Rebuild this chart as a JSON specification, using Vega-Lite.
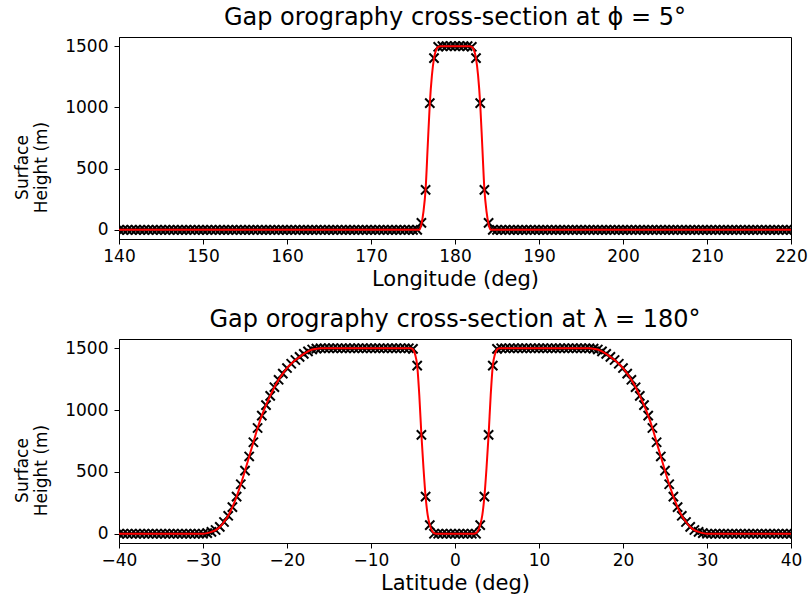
{
  "$schema": "https://vega.github.io/schema/vega-lite/v6.json",
  "padding": {"left": 13, "top": 5, "right": 2, "bottom": 2},
  "config": {
    "font": "DejaVu Sans",
    "view": {"stroke": "black", "strokeWidth": 1},
    "axis": {
      "domainColor": "black", "tickColor": "black", "labelColor": "black", "titleColor": "black",
      "tickSize": 5, "labelFontSize": 17, "titleFontSize": 21, "titleFontWeight": "normal",
      "grid": false, "labelFlush": false, "labelOverlap": false
    },
    "axisX": {"labelPadding": 4, "titlePadding": 4},
    "axisY": {"labelPadding": 6, "titlePadding": 14, "format": "d"},
    "title": {"fontSize": 24, "fontWeight": "normal", "color": "black", "frame": "group", "offset": 7},
    "concat": {"spacing": 17}
  },
  "datasets": {
    "topPts": [
      {"lon":140,"h":0},{"lon":140.5,"h":0},{"lon":141,"h":0},{"lon":141.5,"h":0},{"lon":142,"h":0},{"lon":142.5,"h":0},{"lon":143,"h":0},{"lon":143.5,"h":0},
      {"lon":144,"h":0},{"lon":144.5,"h":0},{"lon":145,"h":0},{"lon":145.5,"h":0},{"lon":146,"h":0},{"lon":146.5,"h":0},{"lon":147,"h":0},{"lon":147.5,"h":0},
      {"lon":148,"h":0},{"lon":148.5,"h":0},{"lon":149,"h":0},{"lon":149.5,"h":0},{"lon":150,"h":0},{"lon":150.5,"h":0},{"lon":151,"h":0},{"lon":151.5,"h":0},
      {"lon":152,"h":0},{"lon":152.5,"h":0},{"lon":153,"h":0},{"lon":153.5,"h":0},{"lon":154,"h":0},{"lon":154.5,"h":0},{"lon":155,"h":0},{"lon":155.5,"h":0},
      {"lon":156,"h":0},{"lon":156.5,"h":0},{"lon":157,"h":0},{"lon":157.5,"h":0},{"lon":158,"h":0},{"lon":158.5,"h":0},{"lon":159,"h":0},{"lon":159.5,"h":0},
      {"lon":160,"h":0},{"lon":160.5,"h":0},{"lon":161,"h":0},{"lon":161.5,"h":0},{"lon":162,"h":0},{"lon":162.5,"h":0},{"lon":163,"h":0},{"lon":163.5,"h":0},
      {"lon":164,"h":0},{"lon":164.5,"h":0},{"lon":165,"h":0},{"lon":165.5,"h":0},{"lon":166,"h":0},{"lon":166.5,"h":0},{"lon":167,"h":0},{"lon":167.5,"h":0},
      {"lon":168,"h":0},{"lon":168.5,"h":0},{"lon":169,"h":0},{"lon":169.5,"h":0},{"lon":170,"h":0},{"lon":170.5,"h":0},{"lon":171,"h":0},{"lon":171.5,"h":0},
      {"lon":172,"h":0},{"lon":172.5,"h":0},{"lon":173,"h":0},{"lon":173.5,"h":0},{"lon":174,"h":0},{"lon":174.5,"h":0},{"lon":175,"h":0},{"lon":175.5,"h":0},
      {"lon":176,"h":57},{"lon":176.5,"h":326},{"lon":177,"h":1035},{"lon":177.5,"h":1402},{"lon":178,"h":1495},
      {"lon":178.5,"h":1500},{"lon":179,"h":1500},{"lon":179.5,"h":1500},{"lon":180,"h":1500},{"lon":180.5,"h":1500},{"lon":181,"h":1500},{"lon":181.5,"h":1500},
      {"lon":182,"h":1495},{"lon":182.5,"h":1402},{"lon":183,"h":1035},{"lon":183.5,"h":326},{"lon":184,"h":57},
      {"lon":184.5,"h":0},{"lon":185,"h":0},{"lon":185.5,"h":0},{"lon":186,"h":0},{"lon":186.5,"h":0},{"lon":187,"h":0},{"lon":187.5,"h":0},{"lon":188,"h":0},
      {"lon":188.5,"h":0},{"lon":189,"h":0},{"lon":189.5,"h":0},{"lon":190,"h":0},{"lon":190.5,"h":0},{"lon":191,"h":0},{"lon":191.5,"h":0},{"lon":192,"h":0},
      {"lon":192.5,"h":0},{"lon":193,"h":0},{"lon":193.5,"h":0},{"lon":194,"h":0},{"lon":194.5,"h":0},{"lon":195,"h":0},{"lon":195.5,"h":0},{"lon":196,"h":0},
      {"lon":196.5,"h":0},{"lon":197,"h":0},{"lon":197.5,"h":0},{"lon":198,"h":0},{"lon":198.5,"h":0},{"lon":199,"h":0},{"lon":199.5,"h":0},{"lon":200,"h":0},
      {"lon":200.5,"h":0},{"lon":201,"h":0},{"lon":201.5,"h":0},{"lon":202,"h":0},{"lon":202.5,"h":0},{"lon":203,"h":0},{"lon":203.5,"h":0},{"lon":204,"h":0},
      {"lon":204.5,"h":0},{"lon":205,"h":0},{"lon":205.5,"h":0},{"lon":206,"h":0},{"lon":206.5,"h":0},{"lon":207,"h":0},{"lon":207.5,"h":0},{"lon":208,"h":0},
      {"lon":208.5,"h":0},{"lon":209,"h":0},{"lon":209.5,"h":0},{"lon":210,"h":0},{"lon":210.5,"h":0},{"lon":211,"h":0},{"lon":211.5,"h":0},{"lon":212,"h":0},
      {"lon":212.5,"h":0},{"lon":213,"h":0},{"lon":213.5,"h":0},{"lon":214,"h":0},{"lon":214.5,"h":0},{"lon":215,"h":0},{"lon":215.5,"h":0},{"lon":216,"h":0},
      {"lon":216.5,"h":0},{"lon":217,"h":0},{"lon":217.5,"h":0},{"lon":218,"h":0},{"lon":218.5,"h":0},{"lon":219,"h":0},{"lon":219.5,"h":0},{"lon":220,"h":0}
    ],
    "topLine": [
      {"lon":140,"h":0},{"lon":175.75,"h":0},{"lon":176,"h":45},{"lon":176.25,"h":150},{"lon":176.5,"h":330},{"lon":176.75,"h":680},
      {"lon":177,"h":1030},{"lon":177.25,"h":1260},{"lon":177.5,"h":1400},{"lon":177.75,"h":1470},{"lon":178,"h":1495},{"lon":178.25,"h":1500},
      {"lon":181.75,"h":1500},{"lon":182,"h":1495},{"lon":182.25,"h":1470},{"lon":182.5,"h":1400},{"lon":182.75,"h":1260},{"lon":183,"h":1030},
      {"lon":183.25,"h":680},{"lon":183.5,"h":330},{"lon":183.75,"h":150},{"lon":184,"h":45},{"lon":184.25,"h":0},{"lon":220,"h":0}
    ],
    "botPts": [
      {"lat":-40,"h":0},{"lat":-39.5,"h":0},{"lat":-39,"h":0},{"lat":-38.5,"h":0},{"lat":-38,"h":0},{"lat":-37.5,"h":0},{"lat":-37,"h":0},
      {"lat":-36.5,"h":0},{"lat":-36,"h":0},{"lat":-35.5,"h":0},{"lat":-35,"h":0},{"lat":-34.5,"h":0},{"lat":-34,"h":0},{"lat":-33.5,"h":0},
      {"lat":-33,"h":0},{"lat":-32.5,"h":0},{"lat":-32,"h":0},{"lat":-31.5,"h":0},{"lat":-31,"h":0},{"lat":-30.5,"h":0},{"lat":-30,"h":0},
      {"lat":-29.5,"h":5},{"lat":-29,"h":15},{"lat":-28.5,"h":30},{"lat":-28,"h":55},{"lat":-27.5,"h":95},{"lat":-27,"h":145},{"lat":-26.5,"h":215},
      {"lat":-26,"h":300},{"lat":-25.5,"h":400},{"lat":-25,"h":510},{"lat":-24.5,"h":625},{"lat":-24,"h":740},{"lat":-23.5,"h":855},{"lat":-23,"h":955},
      {"lat":-22.5,"h":1040},{"lat":-22,"h":1115},{"lat":-21.5,"h":1185},{"lat":-21,"h":1245},{"lat":-20.5,"h":1295},{"lat":-20,"h":1340},
      {"lat":-19.5,"h":1375},{"lat":-19,"h":1405},{"lat":-18.5,"h":1430},{"lat":-18,"h":1455},{"lat":-17.5,"h":1475},{"lat":-17,"h":1490},{"lat":-16.5,"h":1497},
      {"lat":-16,"h":1500},{"lat":-15.5,"h":1500},{"lat":-15,"h":1500},{"lat":-14.5,"h":1500},{"lat":-14,"h":1500},{"lat":-13.5,"h":1500},{"lat":-13,"h":1500},
      {"lat":-12.5,"h":1500},{"lat":-12,"h":1500},{"lat":-11.5,"h":1500},{"lat":-11,"h":1500},{"lat":-10.5,"h":1500},{"lat":-10,"h":1500},{"lat":-9.5,"h":1500},
      {"lat":-9,"h":1500},{"lat":-8.5,"h":1500},{"lat":-8,"h":1500},{"lat":-7.5,"h":1500},{"lat":-7,"h":1500},{"lat":-6.5,"h":1500},{"lat":-6,"h":1500},{"lat":-5.5,"h":1500},
      {"lat":-5,"h":1495},{"lat":-4.5,"h":1360},{"lat":-4,"h":800},{"lat":-3.5,"h":300},{"lat":-3,"h":70},
      {"lat":-2.5,"h":0},{"lat":-2,"h":0},{"lat":-1.5,"h":0},{"lat":-1,"h":0},{"lat":-0.5,"h":0},{"lat":0,"h":0},{"lat":0.5,"h":0},{"lat":1,"h":0},
      {"lat":1.5,"h":0},{"lat":2,"h":0},{"lat":2.5,"h":0},
      {"lat":3,"h":70},{"lat":3.5,"h":300},{"lat":4,"h":800},{"lat":4.5,"h":1360},{"lat":5,"h":1495},
      {"lat":5.5,"h":1500},{"lat":6,"h":1500},{"lat":6.5,"h":1500},{"lat":7,"h":1500},{"lat":7.5,"h":1500},{"lat":8,"h":1500},{"lat":8.5,"h":1500},
      {"lat":9,"h":1500},{"lat":9.5,"h":1500},{"lat":10,"h":1500},{"lat":10.5,"h":1500},{"lat":11,"h":1500},{"lat":11.5,"h":1500},{"lat":12,"h":1500},
      {"lat":12.5,"h":1500},{"lat":13,"h":1500},{"lat":13.5,"h":1500},{"lat":14,"h":1500},{"lat":14.5,"h":1500},{"lat":15,"h":1500},{"lat":15.5,"h":1500},{"lat":16,"h":1500},
      {"lat":16.5,"h":1497},{"lat":17,"h":1490},{"lat":17.5,"h":1475},{"lat":18,"h":1455},{"lat":18.5,"h":1430},{"lat":19,"h":1405},{"lat":19.5,"h":1375},
      {"lat":20,"h":1340},{"lat":20.5,"h":1295},{"lat":21,"h":1245},{"lat":21.5,"h":1185},{"lat":22,"h":1115},{"lat":22.5,"h":1040},{"lat":23,"h":955},
      {"lat":23.5,"h":855},{"lat":24,"h":740},{"lat":24.5,"h":625},{"lat":25,"h":510},{"lat":25.5,"h":400},{"lat":26,"h":300},{"lat":26.5,"h":215},
      {"lat":27,"h":145},{"lat":27.5,"h":95},{"lat":28,"h":55},{"lat":28.5,"h":30},{"lat":29,"h":15},{"lat":29.5,"h":5},
      {"lat":30,"h":0},{"lat":30.5,"h":0},{"lat":31,"h":0},{"lat":31.5,"h":0},{"lat":32,"h":0},{"lat":32.5,"h":0},{"lat":33,"h":0},
      {"lat":33.5,"h":0},{"lat":34,"h":0},{"lat":34.5,"h":0},{"lat":35,"h":0},{"lat":35.5,"h":0},{"lat":36,"h":0},{"lat":36.5,"h":0},
      {"lat":37,"h":0},{"lat":37.5,"h":0},{"lat":38,"h":0},{"lat":38.5,"h":0},{"lat":39,"h":0},{"lat":39.5,"h":0},{"lat":40,"h":0}
    ],
    "botLine": [
      {"lat":-40,"h":0},{"lat":-30,"h":0},{"lat":-29.5,"h":5},{"lat":-29,"h":15},{"lat":-28.5,"h":30},{"lat":-28,"h":55},{"lat":-27.5,"h":95},
      {"lat":-27,"h":145},{"lat":-26.5,"h":215},{"lat":-26,"h":300},{"lat":-25.5,"h":400},{"lat":-25,"h":510},{"lat":-24.5,"h":625},{"lat":-24,"h":740},
      {"lat":-23.5,"h":855},{"lat":-23,"h":955},{"lat":-22.5,"h":1040},{"lat":-22,"h":1115},{"lat":-21.5,"h":1185},{"lat":-21,"h":1245},{"lat":-20.5,"h":1295},
      {"lat":-20,"h":1340},{"lat":-19.5,"h":1375},{"lat":-19,"h":1405},{"lat":-18.5,"h":1430},{"lat":-18,"h":1455},{"lat":-17.5,"h":1475},{"lat":-17,"h":1490},
      {"lat":-16.5,"h":1497},{"lat":-16,"h":1500},{"lat":-5.25,"h":1500},{"lat":-5,"h":1490},{"lat":-4.75,"h":1450},{"lat":-4.5,"h":1360},{"lat":-4.25,"h":1120},
      {"lat":-4,"h":800},{"lat":-3.75,"h":530},{"lat":-3.5,"h":300},{"lat":-3.25,"h":150},{"lat":-3,"h":70},{"lat":-2.75,"h":25},{"lat":-2.5,"h":5},{"lat":-2.25,"h":0},
      {"lat":2.25,"h":0},{"lat":2.5,"h":5},{"lat":2.75,"h":25},{"lat":3,"h":70},{"lat":3.25,"h":150},{"lat":3.5,"h":300},{"lat":3.75,"h":530},{"lat":4,"h":800},
      {"lat":4.25,"h":1120},{"lat":4.5,"h":1360},{"lat":4.75,"h":1450},{"lat":5,"h":1490},{"lat":5.25,"h":1500},{"lat":16,"h":1500},{"lat":16.5,"h":1497},
      {"lat":17,"h":1490},{"lat":17.5,"h":1475},{"lat":18,"h":1455},{"lat":18.5,"h":1430},{"lat":19,"h":1405},{"lat":19.5,"h":1375},{"lat":20,"h":1340},
      {"lat":20.5,"h":1295},{"lat":21,"h":1245},{"lat":21.5,"h":1185},{"lat":22,"h":1115},{"lat":22.5,"h":1040},{"lat":23,"h":955},{"lat":23.5,"h":855},
      {"lat":24,"h":740},{"lat":24.5,"h":625},{"lat":25,"h":510},{"lat":25.5,"h":400},{"lat":26,"h":300},{"lat":26.5,"h":215},{"lat":27,"h":145},
      {"lat":27.5,"h":95},{"lat":28,"h":55},{"lat":28.5,"h":30},{"lat":29,"h":15},{"lat":29.5,"h":5},{"lat":30,"h":0},{"lat":40,"h":0}
    ]
  },
  "vconcat": [
    {
      "width": 672,
      "height": 202,
      "title": {"text": "Gap orography cross-section at ϕ = 5°"},
      "encoding": {
        "x": {"field": "lon", "type": "quantitative",
              "scale": {"domain": [140, 220], "nice": false, "zero": false},
              "axis": {"values": [140, 150, 160, 170, 180, 190, 200, 210, 220], "title": "Longitude (deg)"}},
        "y": {"field": "h", "type": "quantitative",
              "scale": {"domain": [-75, 1575], "nice": false, "zero": false},
              "axis": {"values": [0, 500, 1000, 1500], "title": ["Surface", "Height (m)"],
                       "titleFontSize": 17, "titleLineHeight": 19, "titleAlign": "center", "titleY": 130}}
      },
      "layer": [
        {"data": {"name": "topPts"},
         "mark": {"type": "point", "shape": "M-1,-1L1,1M-1,1L1,-1", "size": 85, "color": "black", "strokeWidth": 2, "filled": false, "opacity": 1, "clip": true}},
        {"data": {"name": "topLine"},
         "mark": {"type": "line", "color": "#ff0000", "strokeWidth": 2, "interpolate": "monotone", "clip": true}}
      ]
    },
    {
      "width": 672,
      "height": 204,
      "title": {"text": "Gap orography cross-section at λ = 180°"},
      "encoding": {
        "x": {"field": "lat", "type": "quantitative",
              "scale": {"domain": [-40, 40], "nice": false, "zero": false},
              "axis": {"values": [-40, -30, -20, -10, 0, 10, 20, 30, 40], "title": "Latitude (deg)"}},
        "y": {"field": "h", "type": "quantitative",
              "scale": {"domain": [-75, 1575], "nice": false, "zero": false},
              "axis": {"values": [0, 500, 1000, 1500], "title": ["Surface", "Height (m)"],
                       "titleFontSize": 17, "titleLineHeight": 19, "titleAlign": "center", "titleY": 131}}
      },
      "layer": [
        {"data": {"name": "botPts"},
         "mark": {"type": "point", "shape": "M-1,-1L1,1M-1,1L1,-1", "size": 85, "color": "black", "strokeWidth": 2, "filled": false, "opacity": 1, "clip": true}},
        {"data": {"name": "botLine"},
         "mark": {"type": "line", "color": "#ff0000", "strokeWidth": 2, "interpolate": "monotone", "clip": true}}
      ]
    }
  ]
}
